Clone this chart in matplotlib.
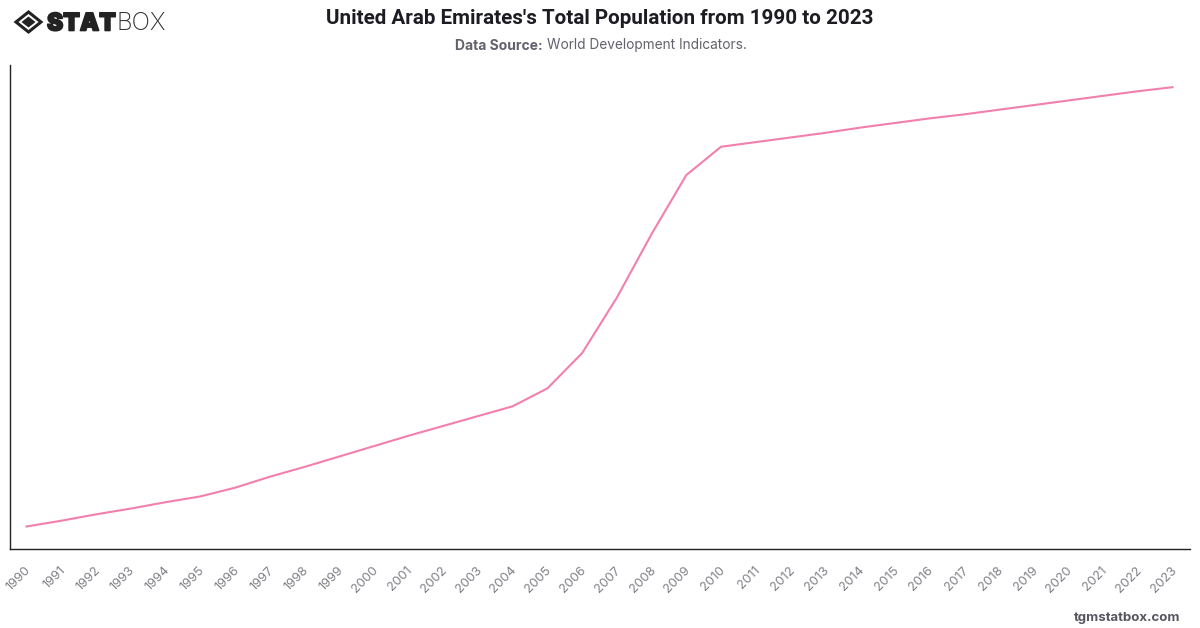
import matplotlib
matplotlib.use("Agg")
import matplotlib.pyplot as plt
import matplotlib.patheffects as pe
from matplotlib.patches import Polygon
from matplotlib.transforms import ScaledTranslation

plt.rcParams['font.family'] = ['Inter', 'DejaVu Sans']

## Total population, millions ##############################################
years = [1990, 1991, 1992, 1993, 1994, 1995, 1996, 1997, 1998, 1999, 2000, 2001,
         2002, 2003, 2004, 2005, 2006, 2007, 2008, 2009, 2010, 2011, 2012, 2013,
         2014, 2015, 2016, 2017, 2018, 2019, 2020, 2021, 2022, 2023]
population = [1.90, 2.00, 2.11, 2.21, 2.32, 2.42, 2.57, 2.76, 2.93, 3.11, 3.29, 3.47,
              3.64, 3.81, 3.98, 4.29, 4.90, 5.86, 6.96, 7.98, 8.47, 8.55, 8.63, 8.71,
              8.80, 8.88, 8.96, 9.03, 9.11, 9.19, 9.27, 9.35, 9.43, 9.50]

W, H = 1200, 628
fig = plt.figure(figsize=(W/100, H/100), dpi=100, facecolor='white')

## Main axes ###############################################################
ax = fig.add_axes([10/W, 1-549/H, (1190-10)/W, (549-65)/H])
ax.plot(years, population, color='#f27fae', linewidth=1.5, solid_joinstyle='round')
ax.set_xlim(1990-16.5/34.73, 2023+17.5/34.73)
ax.set_ylim(1.511, 9.884)
ax.set_yticks([])
ax.set_xticks(years)
ax.set_xticklabels(years, rotation=45, ha='right', va='top', rotation_mode='anchor',
                   fontsize=9.2, color='#808088')
ax.tick_params(axis='x', length=0, pad=11)
shift = ScaledTranslation(-2/100, 0, fig.dpi_scale_trans)
for label in ax.get_xticklabels():
    label.set_transform(label.get_transform() + shift)
ax.spines['top'].set_visible(False)
ax.spines['right'].set_visible(False)
ax.spines['left'].set_color('#222222')
ax.spines['bottom'].set_color('#222222')
ax.spines['left'].set_linewidth(1)
ax.spines['bottom'].set_linewidth(1)

## Header and footer #######################################################
fig.text(600/W, 1-18.5/H, "United Arab Emirates's Total Population from 1990 to 2023",
         ha='center', va='center', fontsize=14.9, fontweight='bold', color='#1c1c22',
         family='Roboto')
fig.text(543/W, 1-45.5/H, "Data Source:", ha='right', va='center',
         fontsize=10, fontweight='bold', color='#62626e')
fig.text(547/W, 1-45.5/H, "World Development Indicators.", ha='left', va='center',
         fontsize=9.85, color='#62626e')
fig.text(1180/W, 1-618/H, "tgmstatbox.com", ha='right', va='center',
         fontsize=9.5, fontweight='bold', color='#555560')

## Logo, drawn in pixel coordinates ########################################
logo = fig.add_axes([0, 0, 1, 1], facecolor='none')
logo.set_xlim(0, W)
logo.set_ylim(H, 0)
logo.axis('off')
logo.add_patch(Polygon([(16, 22), (28.5, 12), (41, 22), (28.5, 32)], closed=True,
                       facecolor='none', edgecolor='#222222', linewidth=2.2))
logo.add_patch(Polygon([(21.5, 22), (28.5, 16.5), (35.5, 22), (28.5, 27.5)], closed=True,
                       facecolor='#222222', edgecolor='none'))
logo.text(47, 24, "STAT", ha='left', va='center', fontsize=17.5, fontweight='black',
          color='#222222', path_effects=[pe.withStroke(linewidth=1.2, foreground='#222222')])
logo.text(116.5, 24, "BOX", ha='left', va='center', fontsize=17.5, fontweight='light',
          color='#333333')

fig.savefig('out.png', dpi=100)
